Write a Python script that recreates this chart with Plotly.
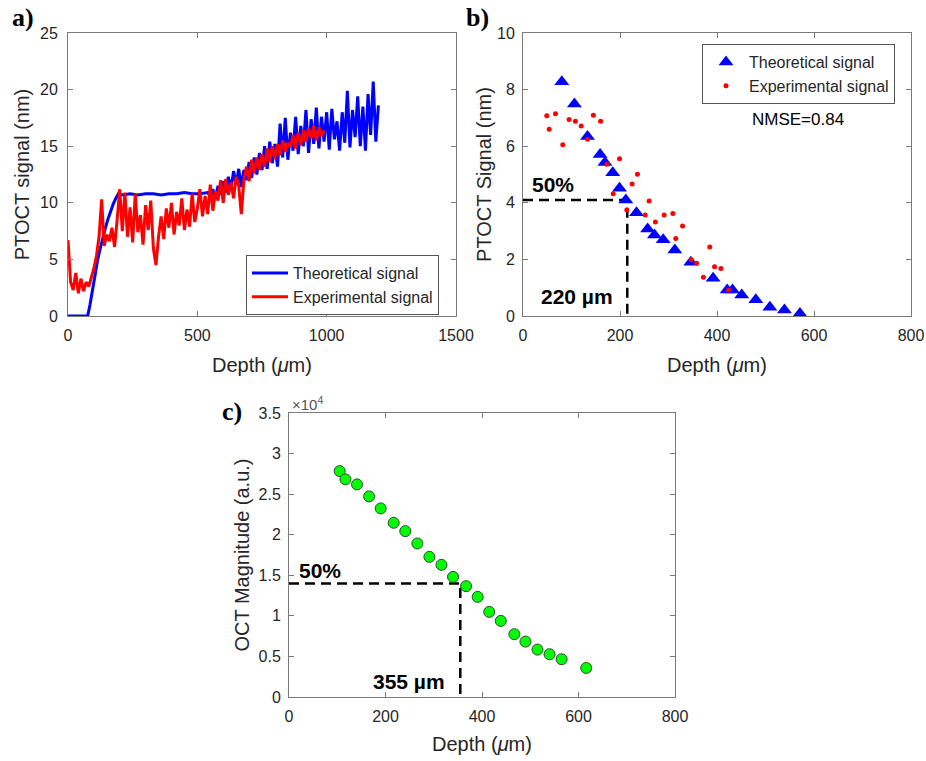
import plotly.graph_objects as go

W, H = 926, 761

# ---------------- Panel a data ----------------
theo_a_depth = [0, 76, 85, 95, 105, 115, 125, 135, 145, 155, 165, 175, 185, 195,
                210, 240, 270, 300, 330, 360, 390, 420, 450, 480, 510, 540,
                550, 560, 570, 580, 590, 600, 610, 620, 630, 640, 650, 660, 670, 680, 690,
                700, 710, 720, 730, 740, 750, 760, 770, 780, 790, 800, 810, 820, 830, 840,
                850, 860, 870, 880, 890, 900, 910, 920, 930, 940, 950, 960, 970, 980, 990,
                1000, 1010, 1020, 1030, 1040, 1050, 1060, 1070, 1080, 1090, 1100, 1110,
                1120, 1130, 1140, 1150, 1160, 1170, 1180, 1190, 1200]
theo_a_signal = [0, 0, 1.0, 2.4, 3.8, 5.0, 6.0, 7.0, 7.8, 8.6, 9.3, 9.9, 10.4, 10.8,
                 10.7, 10.8, 10.7, 10.8, 10.8, 10.7, 10.8, 10.8, 10.9, 10.8, 10.8, 10.9,
                 10.6, 11.2, 10.4, 11.5, 10.7, 11.9, 10.9, 12.3, 11.2, 12.8, 11.6, 13.0, 11.4, 12.9, 12.0,
                 13.6, 12.2, 14.0, 12.5, 14.4, 12.9, 15.0, 13.0, 15.4, 13.5, 15.2, 13.2, 17.0, 14.0, 17.5,
                 13.8, 16.2, 14.6, 17.6, 14.3, 16.8, 15.0, 18.2, 14.4, 17.4, 15.2, 18.4, 14.8, 17.6, 15.4,
                 18.0, 14.7, 18.3, 15.6, 17.2, 14.6, 18.0, 15.3, 19.9, 14.9, 18.2, 15.8,
                 19.4, 15.0, 18.5, 14.6, 19.6, 16.0, 20.7, 15.4, 18.6]

exp_a_depth = [0, 10, 20, 30, 40, 50, 60, 70, 80, 90, 100, 110, 120, 130, 140, 150, 160, 170, 180, 190,
               200, 210, 220, 230, 240, 250, 260, 270, 280, 290, 300, 310, 320, 330, 340, 350, 360, 370, 380, 390,
               400, 410, 420, 430, 440, 450, 460, 470, 480, 490, 500, 510, 520, 530, 540, 550, 560, 570, 580, 590,
               600, 610, 620, 630, 640, 650, 660, 670, 680, 690, 700, 710, 720, 730, 740, 750, 760, 770, 780, 790,
               800, 810, 820, 830, 840, 850, 860, 870, 880, 890, 900, 910, 920, 930, 940, 950, 960, 970, 980, 990]
exp_a_signal = [6.7, 3.0, 2.3, 3.8, 2.0, 3.3, 2.2, 3.0, 2.6, 3.4, 4.2, 5.3, 7.0, 10.3, 6.2, 7.2, 6.6, 7.8, 6.1, 8.5,
                11.2, 7.5, 10.9, 7.0, 9.6, 6.5, 10.8, 7.4, 8.9, 6.3, 9.8, 7.6, 10.2, 6.0, 4.5, 7.0, 8.8, 6.8, 9.5, 7.8,
                10.0, 7.2, 9.2, 8.0, 10.4, 7.6, 9.4, 7.9, 10.8, 8.3, 9.5, 11.2, 8.8, 10.6, 9.0, 11.6, 9.3, 11.0, 10.2, 12.0,
                10.0, 12.1, 10.7, 11.8, 10.4, 12.3, 11.5, 9.0, 12.0, 13.2, 11.9, 13.8, 12.6, 14.0, 12.9, 14.3, 13.2, 14.8, 13.6, 15.0,
                13.9, 15.2, 14.2, 15.5, 14.5, 15.3, 14.9, 16.0, 14.8, 16.2, 15.1, 16.4, 15.4, 16.6, 15.7, 16.8, 15.5, 16.7, 15.9, 16.4]

# ---------------- Panel b data ----------------
theo_b_depth = [80, 106, 133, 159, 169, 185, 199, 212, 234, 257, 271, 289, 313, 346,
                392, 421, 432, 451, 480, 509, 539, 571]
theo_b_signal = [8.28, 7.49, 6.34, 5.71, 5.42, 5.06, 4.51, 4.10, 3.65, 3.07, 2.86, 2.69, 2.33, 1.90,
                 1.33, 0.92, 0.92, 0.74, 0.57, 0.31, 0.21, 0.09]
exp_b_depth = [49, 54, 67, 82, 95, 108, 120, 133, 145, 160, 173, 186, 199, 214, 225, 236, 252, 260,
               273, 291, 309, 315, 329, 347, 358, 372, 385, 395, 408, 424]
exp_b_signal = [7.08, 6.60, 7.15, 6.05, 6.94, 6.88, 6.71, 6.25, 7.09, 6.88, 5.36, 4.32, 5.56, 3.75, 4.66,
                5.01, 3.57, 4.06, 3.32, 3.57, 3.62, 2.74, 3.18, 1.99, 1.86, 1.37, 2.44, 1.74, 1.68, 0.92]
half_b_depth = 215
half_b_signal = 4.1
nmse_text = "NMSE=0.84"
half_b_label = "220 µm"

# ---------------- Panel c data ----------------
oct_depth = [105, 117, 141, 166, 190, 217, 241, 266, 291, 316, 340, 367, 391, 415, 439, 467,
             490, 515, 540, 565, 616]
oct_mag = [27840, 26820, 26200, 24720, 23240, 21470, 20440, 18920, 17270, 16290, 14800, 13660,
           12340, 10490, 9380, 7740, 6830, 5840, 5270, 4650, 3580]
half_c_depth = 355
half_c_mag = 14000
half_c_label = "355 µm"

ticks_a_x = [0, 500, 1000, 1500]
ticks_a_y = [0, 5, 10, 15, 20, 25]
ticks_b_x = [0, 200, 400, 600, 800]
ticks_b_y = [0, 2, 4, 6, 8, 10]
ticks_c_x = [0, 200, 400, 600, 800]
ticks_c_y = [0, 5000, 10000, 15000, 20000, 25000, 30000, 35000]
ticks_c_ytext = ["0", "0.5", "1", "1.5", "2", "2.5", "3", "3.5"]


def px(x):
    return x / W


def py(y):
    return 1 - y / H


FONT = "Liberation Sans, Arial, sans-serif"
TXT = "#262626"
AX = "#7a7a7a"
DASH = "10px,6px"

fig = go.Figure()

# Panel a
fig.add_trace(go.Scatter(x=theo_a_depth, y=theo_a_signal, mode="lines", name="Theoretical signal",
                         line=dict(color="#0000FF", width=3), xaxis="x", yaxis="y", legend="legend"))
fig.add_trace(go.Scatter(x=exp_a_depth, y=exp_a_signal, mode="lines", name="Experimental signal",
                         line=dict(color="#FF0000", width=3), xaxis="x", yaxis="y", legend="legend"))

# Panel b
fig.add_trace(go.Scatter(x=[0, half_b_depth, half_b_depth], y=[half_b_signal, half_b_signal, 0],
                         mode="lines", line=dict(color="black", width=2.5, dash=DASH),
                         showlegend=False, xaxis="x2", yaxis="y2"))
fig.add_trace(go.Scatter(x=theo_b_depth, y=theo_b_signal, mode="markers", name="Theoretical signal",
                         marker=dict(symbol="triangle-up", size=13, color="#0000FF"),
                         xaxis="x2", yaxis="y2", legend="legend2"))
fig.add_trace(go.Scatter(x=exp_b_depth, y=exp_b_signal, mode="markers", name="Experimental signal",
                         marker=dict(symbol="circle", size=5, color="#FF0000"),
                         xaxis="x2", yaxis="y2", legend="legend2"))

# Panel c
fig.add_trace(go.Scatter(x=[0, half_c_depth, half_c_depth], y=[half_c_mag, half_c_mag, 0],
                         mode="lines", line=dict(color="black", width=2.5, dash=DASH),
                         showlegend=False, xaxis="x3", yaxis="y3"))
fig.add_trace(go.Scatter(x=oct_depth, y=oct_mag, mode="markers", showlegend=False,
                         marker=dict(symbol="circle", size=11, color="#00FF00",
                                     line=dict(color="#2b4a2b", width=1)),
                         xaxis="x3", yaxis="y3"))


def axis(domain, rng, tickvals, anchor, title, ticktext=None, standoff=6, labelgap=5):
    d = dict(domain=domain, range=rng, tickvals=tickvals, anchor=anchor, automargin=False,
             showline=True, linecolor=AX, linewidth=1, mirror="ticks",
             ticks="inside", ticklen=5, tickcolor=AX, showgrid=False, zeroline=False,
             ticklabelstandoff=labelgap, ticklabeloverflow="allow",
             tickfont=dict(family=FONT, size=16, color=TXT),
             title=dict(text=title, font=dict(family=FONT, size=20, color=TXT), standoff=standoff))
    if ticktext is not None:
        d["ticktext"] = ticktext
    return d


xa_dom = [px(68), px(456)]
xb_dom = [px(523), px(911)]
xc_dom = [px(289), px(675)]
yab_dom = [py(316), py(33)]
yc_dom = [py(697), py(413)]

depth_title = "Depth (<i>μ</i>m)"

fig.update_layout(
    width=W, height=H,
    margin=dict(l=0, r=0, t=0, b=0),
    paper_bgcolor="white", plot_bgcolor="white",
    font=dict(family=FONT, color=TXT),
    xaxis=axis(xa_dom, [0, 1500], ticks_a_x, "y", depth_title, standoff=14, labelgap=5),
    yaxis=axis(yab_dom, [0, 25], ticks_a_y, "x", "PTOCT signal (nm)", standoff=5, labelgap=6),
    xaxis2=axis(xb_dom, [0, 800], ticks_b_x, "y2", depth_title, standoff=14, labelgap=5),
    yaxis2=axis(yab_dom, [0, 10], ticks_b_y, "x2", "PTOCT Signal (nm)", standoff=0, labelgap=4),
    xaxis3=axis(xc_dom, [0, 800], ticks_c_x, "y3", depth_title, standoff=12, labelgap=5),
    yaxis3=axis(yc_dom, [0, 35000], ticks_c_y, "x3", "OCT Magnitude (a.u.)", ticktext=ticks_c_ytext,
                standoff=3, labelgap=4),
    legend=dict(x=px(246), y=py(255), xanchor="left", yanchor="top", itemwidth=36,
                bgcolor="white", bordercolor="#555555", borderwidth=1,
                font=dict(family=FONT, size=16, color=TXT)),
    legend2=dict(x=px(702), y=py(44), xanchor="left", yanchor="top", itemwidth=36,
                 bgcolor="white", bordercolor="#555555", borderwidth=1,
                 font=dict(family=FONT, size=16, color=TXT)),
)

ann = []
# panel labels
for lbl, (x, y) in {"a)": (23, 17), "b)": (477, 17), "c)": (232, 411)}.items():
    ann.append(dict(text=f"<b>{lbl}</b>", x=px(x), y=py(y), xref="paper", yref="paper",
                    xanchor="center", yanchor="middle", showarrow=False,
                    font=dict(family="Liberation Serif, Times New Roman, serif", size=26, color="black")))
# panel b texts
ann.append(dict(text="<b>50%</b>", x=62, y=4.63, xref="x2", yref="y2", xanchor="center", showarrow=False,
                font=dict(family=FONT, size=21, color="black")))
ann.append(dict(text=f"<b>{half_b_label}</b>", x=112, y=0.69, xref="x2", yref="y2", xanchor="center",
                showarrow=False, font=dict(family=FONT, size=21, color="black")))
ann.append(dict(text=nmse_text, x=567, y=6.96, xref="x2", yref="y2", xanchor="center", showarrow=False,
                font=dict(family=FONT, size=17, color="black")))
# panel c texts
ann.append(dict(text="<b>50%</b>", x=64, y=15630, xref="x3", yref="y3", xanchor="center", showarrow=False,
                font=dict(family=FONT, size=21, color="black")))
ann.append(dict(text=f"<b>{half_c_label}</b>", x=249, y=1937, xref="x3", yref="y3", xanchor="center",
                showarrow=False, font=dict(family=FONT, size=21, color="black")))
ann.append(dict(text="×10<sup>4</sup>", x=px(290), y=py(404), xref="paper", yref="paper",
                xanchor="left", showarrow=False, font=dict(family=FONT, size=15, color="#555555")))
fig.update_layout(annotations=ann)

# remove the default 8px page margin so the 926x761 figure fills the window exactly
fig.write_html("out.html", config={"displayModeBar": False},
               post_script="document.body.style.margin='0';")
